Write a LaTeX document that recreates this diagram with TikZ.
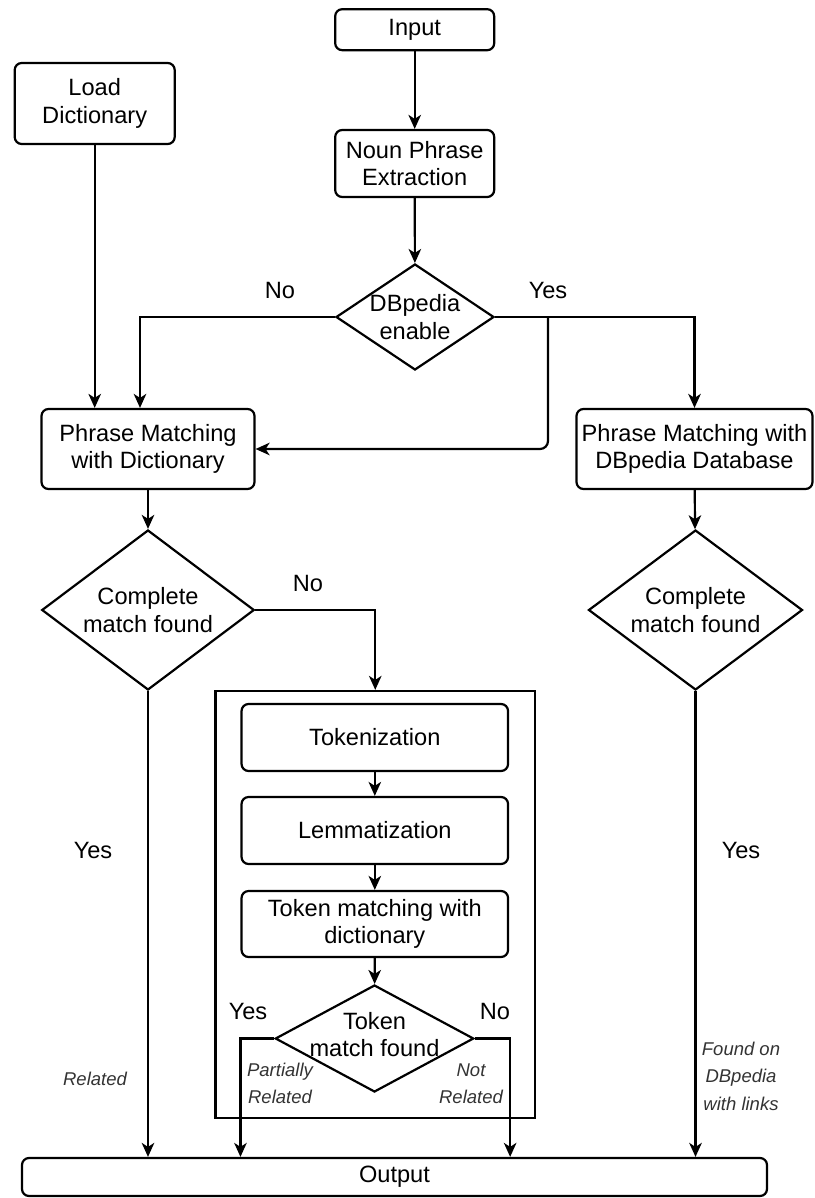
\documentclass[tikz,border=0pt]{standalone}
\usepackage{fontspec}
\setmainfont{Liberation Sans}
\usetikzlibrary{arrows.meta,shapes.geometric,calc}
\newcommand{\mainf}{\fontsize{23.6}{27.7}\selectfont}
\newcommand{\smallf}{\fontsize{18.5}{27.5}\selectfont\itshape}
\tikzset{
  box/.style={draw, line width=2.2pt, rounded corners=7pt, inner sep=0pt, align=center, font=\mainf},
  dia/.style={draw, diamond, line width=2.2pt, inner sep=0pt},
  txt/.style={align=center, font=\mainf, inner sep=0pt},
  lab/.style={align=center, font=\mainf, inner sep=0pt},
  ilab/.style={align=center, font=\smallf, text=black!80, inner sep=0pt},
  arr/.style={line width=2.2pt, -{Stealth[length=14pt,width=12.5pt,inset=4pt]}},
  ln/.style={line width=2.2pt}
}
\begin{document}
\begin{tikzpicture}[x=1pt,y=-1pt]
\useasboundingbox (0,0) rectangle (814,1198);
% container
\node[draw, line width=2.2pt, minimum width=319.5pt, minimum height=427pt, inner sep=0pt] (cont) at (375.25,904.5) {};
% boxes
\node[box, minimum width=159pt, minimum height=41pt] (input) at (414.7,29.7) {Input};
\node[box, minimum width=160pt, minimum height=81pt] (load) at (94.7,103.5) {Load\\Dictionary};
\node[box, minimum width=159pt, minimum height=67pt] (noun) at (414.7,163.5) {Noun Phrase\\Extraction};
\node[dia, minimum width=158pt, minimum height=106pt, label={[txt]center:DBpedia\\enable}] (dbd) at (415,317) {};
\node[box, minimum width=213pt, minimum height=80pt] (pmd) at (148,449) {Phrase Matching\\with Dictionary};
\node[box, minimum width=236pt, minimum height=80pt] (pmdb) at (694.5,449) {Phrase Matching with\\DBpedia Database};
\node[dia, minimum width=212.5pt, minimum height=160pt, label={[txt]center:Complete\\match found}] (cmf1) at (148,610) {};
\node[dia, minimum width=214pt, minimum height=160pt, label={[txt]center:Complete\\match found}] (cmf2) at (695.5,610) {};
\node[box, minimum width=266.5pt, minimum height=67pt] (tok) at (374.8,737.5) {Tokenization};
\node[box, minimum width=266.5pt, minimum height=67pt] (lem) at (374.8,830.5) {Lemmatization};
\node[box, minimum width=266.5pt, minimum height=66pt] (tmd) at (374.8,924) {Token matching with\\dictionary};
\node[dia, minimum width=198.5pt, minimum height=107pt, label={[txt,yshift=4pt]center:Token\\match found}] (tmf) at (374.5,1038.5) {};
\node[box, minimum width=745pt, minimum height=38pt] (out) at (394.5,1177) {Output};
% junction
\coordinate (jy) at (548,317);
% connectors
\draw[arr] (input) -- (noun);
\draw[arr] (noun) -- (dbd);
\draw[arr] (load) -- (load |- pmd.north);
\draw[arr] (dbd.west) -| ([xshift=-8pt]pmd.north);
\draw[arr] (dbd.east) -| (pmdb.north);
\draw[arr, rounded corners=8pt] (jy) |- (pmd.east);
\draw[arr] (pmd) -- (cmf1);
\draw[arr] (pmdb) -- (cmf2);
\draw[arr] (cmf1.east) -| (cont.north);
\draw[arr] (cmf1.south) -- (cmf1.south |- out.north);
\draw[arr] (cmf2.south) -- (cmf2.south |- out.north);
\draw[arr] (tok) -- (lem);
\draw[arr] (lem) -- (tmd);
\draw[arr] (tmd) -- (tmf);
\draw[arr] (tmf.west) -| (tok.west |- out.north);
\draw[arr] (tmf.east) -| ([xshift=1pt]tok.east |- out.north);
% labels
\node[lab] (l1) at (280,290) {No};
\node[lab] (l2) at (548,290) {Yes};
\node[lab] (l3) at (308,583) {No};
\node[lab] (l4) at (93,850) {Yes};
\node[lab] (l5) at (741,850) {Yes};
\node[lab] (l6) at (248,1011) {Yes};
\node[lab] (l7) at (495,1011) {No};
\node[ilab] (l8) at (95,1079) {Related};
\node[ilab] (l9) at (280,1083.5) {Partially\\Related};
\node[ilab] (l10) at (471,1083.5) {Not\\Related};
\node[ilab] (l11) at (741,1076) {Found on\\DBpedia\\with links};
\end{tikzpicture}
\end{document}
